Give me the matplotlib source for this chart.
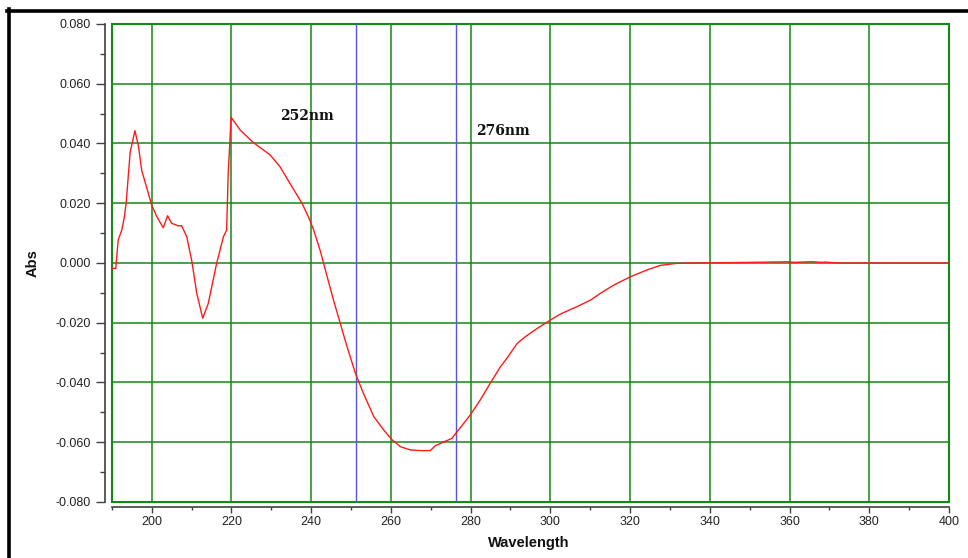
import matplotlib
matplotlib.use('Agg')
import matplotlib.pyplot as plt
from matplotlib.patches import Rectangle
from matplotlib.lines import Line2D
from matplotlib.ticker import MultipleLocator, FormatStrFormatter

plt.rcParams['font.family'] = ['Liberation Sans', 'DejaVu Sans']

# spectrum
wavelength = [190.0, 191.0, 191.1, 191.6, 192.5, 193.1, 193.6, 194.6, 195.8, 196.7,
              197.5, 198.8, 200.0, 201.3, 202.9, 204.0, 205.0, 206.7, 207.5, 208.8,
              210.1, 211.3, 212.8, 214.2, 216.3, 218.0, 218.8, 219.2, 219.7, 219.9,
              222.2, 225.5, 229.7, 232.2, 235.2, 237.7, 239.3, 240.6, 242.3, 244.0,
              245.6, 247.3, 249.0, 251.1, 253.1, 255.7, 258.2, 260.3, 262.4, 264.9,
              267.4, 269.9, 271.1, 275.3, 276.6, 279.9, 282.4, 284.9, 287.5, 289.1,
              291.7, 293.7, 296.7, 300.0, 302.5, 306.7, 310.1, 312.6, 315.9, 320.1,
              324.3, 327.6, 331.8, 336.8, 350.0, 359.8, 361.0, 364.8, 366.0, 368.0,
              369.0, 372.0, 400.0]
absorbance = [-0.0018, -0.0018, 0.0000, 0.0077, 0.0110, 0.0150, 0.0200, 0.0370, 0.0443, 0.0390,
              0.0310, 0.0250, 0.0194, 0.0155, 0.0118, 0.0158, 0.0133, 0.0124, 0.0125, 0.0088,
              0.0004, -0.0101, -0.0185, -0.0135, -0.0001, 0.0088, 0.0110, 0.0300, 0.0428, 0.0488,
              0.0445, 0.0403, 0.0362, 0.0322, 0.0255, 0.0200, 0.0155, 0.0112, 0.0040, -0.0045,
              -0.0124, -0.0202, -0.0280, -0.0369, -0.0436, -0.0514, -0.0559, -0.0592, -0.0615, -0.0626,
              -0.0628, -0.0628, -0.0612, -0.0587, -0.0565, -0.0509, -0.0459, -0.0403, -0.0347, -0.0319,
              -0.0269, -0.0247, -0.0219, -0.0191, -0.0171, -0.0146, -0.0124, -0.0101, -0.0074, -0.0046,
              -0.0023, -0.0008, -0.0001, 0.0000, 0.0002, 0.0004, 0.0002, 0.0004, 0.0004, 0.0002,
              0.0003, 0.0000, 0.0000]

marker_wl = [251.3, 276.4]
marker_labels = ['252nm', '276nm']
label_pos = [(232.2, 0.0492), (281.4, 0.0442)]

fig = plt.figure(figsize=(9.68, 5.58), dpi=100)
ax = fig.add_axes([0.1155, 0.1004, 0.8649, 0.8566])

green = '#138a13'
axis_grey = '#404040'

ax.set_xlim(190, 400)
ax.set_ylim(-0.08, 0.08)
ax.xaxis.set_major_locator(MultipleLocator(20))
ax.xaxis.set_minor_locator(MultipleLocator(10))
ax.yaxis.set_major_locator(MultipleLocator(0.02))
ax.yaxis.set_minor_locator(MultipleLocator(0.01))
ax.yaxis.set_major_formatter(FormatStrFormatter('%.3f'))

ax.grid(True, which='major', color=green, lw=1.1)
ax.add_patch(Rectangle((0, 0), 1, 1, transform=ax.transAxes, fill=False,
                       edgecolor=green, lw=1.5, clip_on=False, zorder=3))

ax.plot(wavelength, absorbance, color='#ff1a1a', lw=1.0, zorder=4)

for x in marker_wl:
    ax.axvline(x, color='#5555dd', lw=1.0, zorder=3)
for txt, (x, y) in zip(marker_labels, label_pos):
    ax.text(x, y, txt, family='DejaVu Serif', weight='bold', fontsize=10,
            ha='left', va='center', color='#111111')

# offset axis lines like the instrument software
for side in ['top', 'right']:
    ax.spines[side].set_visible(False)
ax.spines['left'].set_position(('outward', 4.9))
ax.spines['bottom'].set_position(('outward', 3.8))
for side in ['left', 'bottom']:
    ax.spines[side].set_color(axis_grey)
    ax.spines[side].set_linewidth(1.2)

ax.tick_params(axis='y', which='major', length=6.5, width=1, color=axis_grey, pad=4,
               labelsize=9, labelcolor='#222222')
ax.tick_params(axis='y', which='minor', length=3.5, width=1, color=axis_grey)
ax.tick_params(axis='x', which='major', length=4.5, width=1, color=axis_grey, pad=2,
               labelsize=9, labelcolor='#222222')
ax.tick_params(axis='x', which='minor', length=2.2, width=1, color=axis_grey)

fig.text(529 / 968, 1 - 543 / 558, 'Wavelength', ha='center', va='center',
         weight='bold', fontsize=10.5, color='#111111')
fig.text(33 / 968, 1 - 263 / 558, 'Abs', ha='center', va='center', rotation=90,
         weight='bold', fontsize=10.5, color='#111111')

# black frame around the screenshot
fig.add_artist(Line2D([7 / 968, 1], [1 - 10.5 / 558, 1 - 10.5 / 558],
                      transform=fig.transFigure, color='black', lw=2.6))
fig.add_artist(Line2D([9 / 968, 9 / 968], [0, 1 - 9 / 558],
                      transform=fig.transFigure, color='black', lw=2.6))

fig.savefig('out.png', dpi=100)
